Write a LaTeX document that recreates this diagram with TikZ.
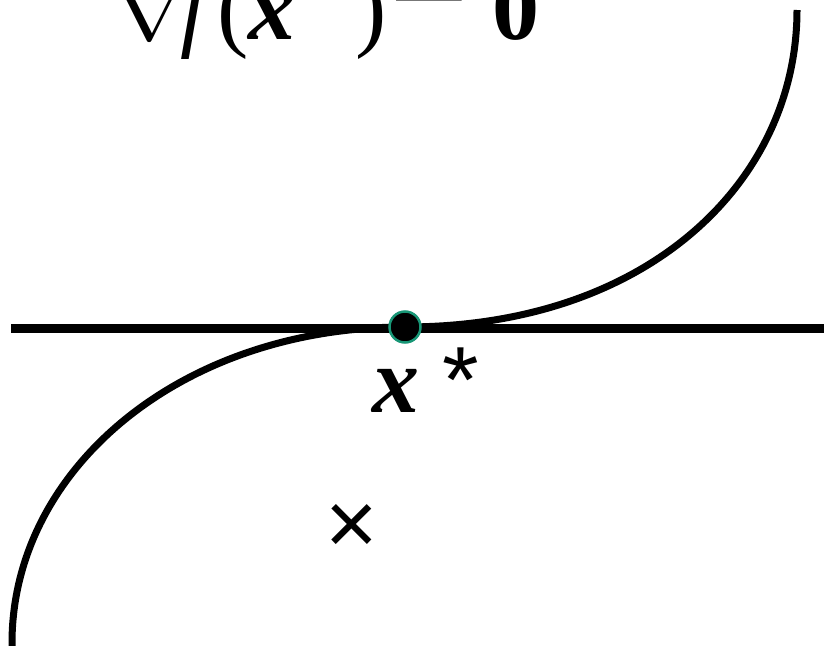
\documentclass[tikz,border=0pt]{standalone}
\usepackage{fontspec}
\setmainfont{Liberation Serif}
\setsansfont{Liberation Sans}

\definecolor{ringgreen}{RGB}{24,150,118}
\newcommand{\bigsize}{\fontsize{94}{94}\selectfont}
\newcommand{\gradsym}{\scalebox{9.4}{\fontsize{10}{10}\selectfont$\nabla$}}
\newcommand{\eqsym}{\raisebox{0.2em}{\scalebox{1.5}[1]{=}}}

\begin{document}
\begin{tikzpicture}[x=1pt, y=-1pt,
    curve/.style={line width=7pt},
    axisline/.style={line width=9pt},
    bigtext/.style={inner sep=0pt, anchor=base west, font=\bigsize}]
    \useasboundingbox (0,0) rectangle (824,645);

    % Horizontal line
    \coordinate (axl) at (11,328);
    \coordinate (axr) at (824,328);
    \draw[axisline] (axl) -- (axr);

    % Curve through the stationary point
    \coordinate (low) at (12,660);
    \coordinate (xs) at (405,327);
    \coordinate (high) at (797,10);
    \draw[curve] (low) -- (12,643) .. controls (12,470) and (180,327) .. (xs)
        .. controls (650,327) and (797,180) .. (high);

    % Stationary point
    \node[circle, fill=black, draw=ringgreen, line width=2.5pt,
          minimum size=31pt, inner sep=0pt] (xstar) at (xs) {};
    \node[bigtext] (xlab) at (372,412) {\textbf{\textit{x}} {\sffamily *}};

    % Condition
    \node[bigtext] (grad) at (110,39)
        {\gradsym\kern-8pt\textit{f}(\textbf{\textit{x}} \raisebox{8pt}{\sffamily *})\kern2pt\eqsym\kern24pt\textbf{0}};

    % Cross
    \node[inner sep=0pt, font=\sffamily\fontsize{90}{90}\selectfont] (cross) at (352,529) {×};
\end{tikzpicture}
\end{document}
